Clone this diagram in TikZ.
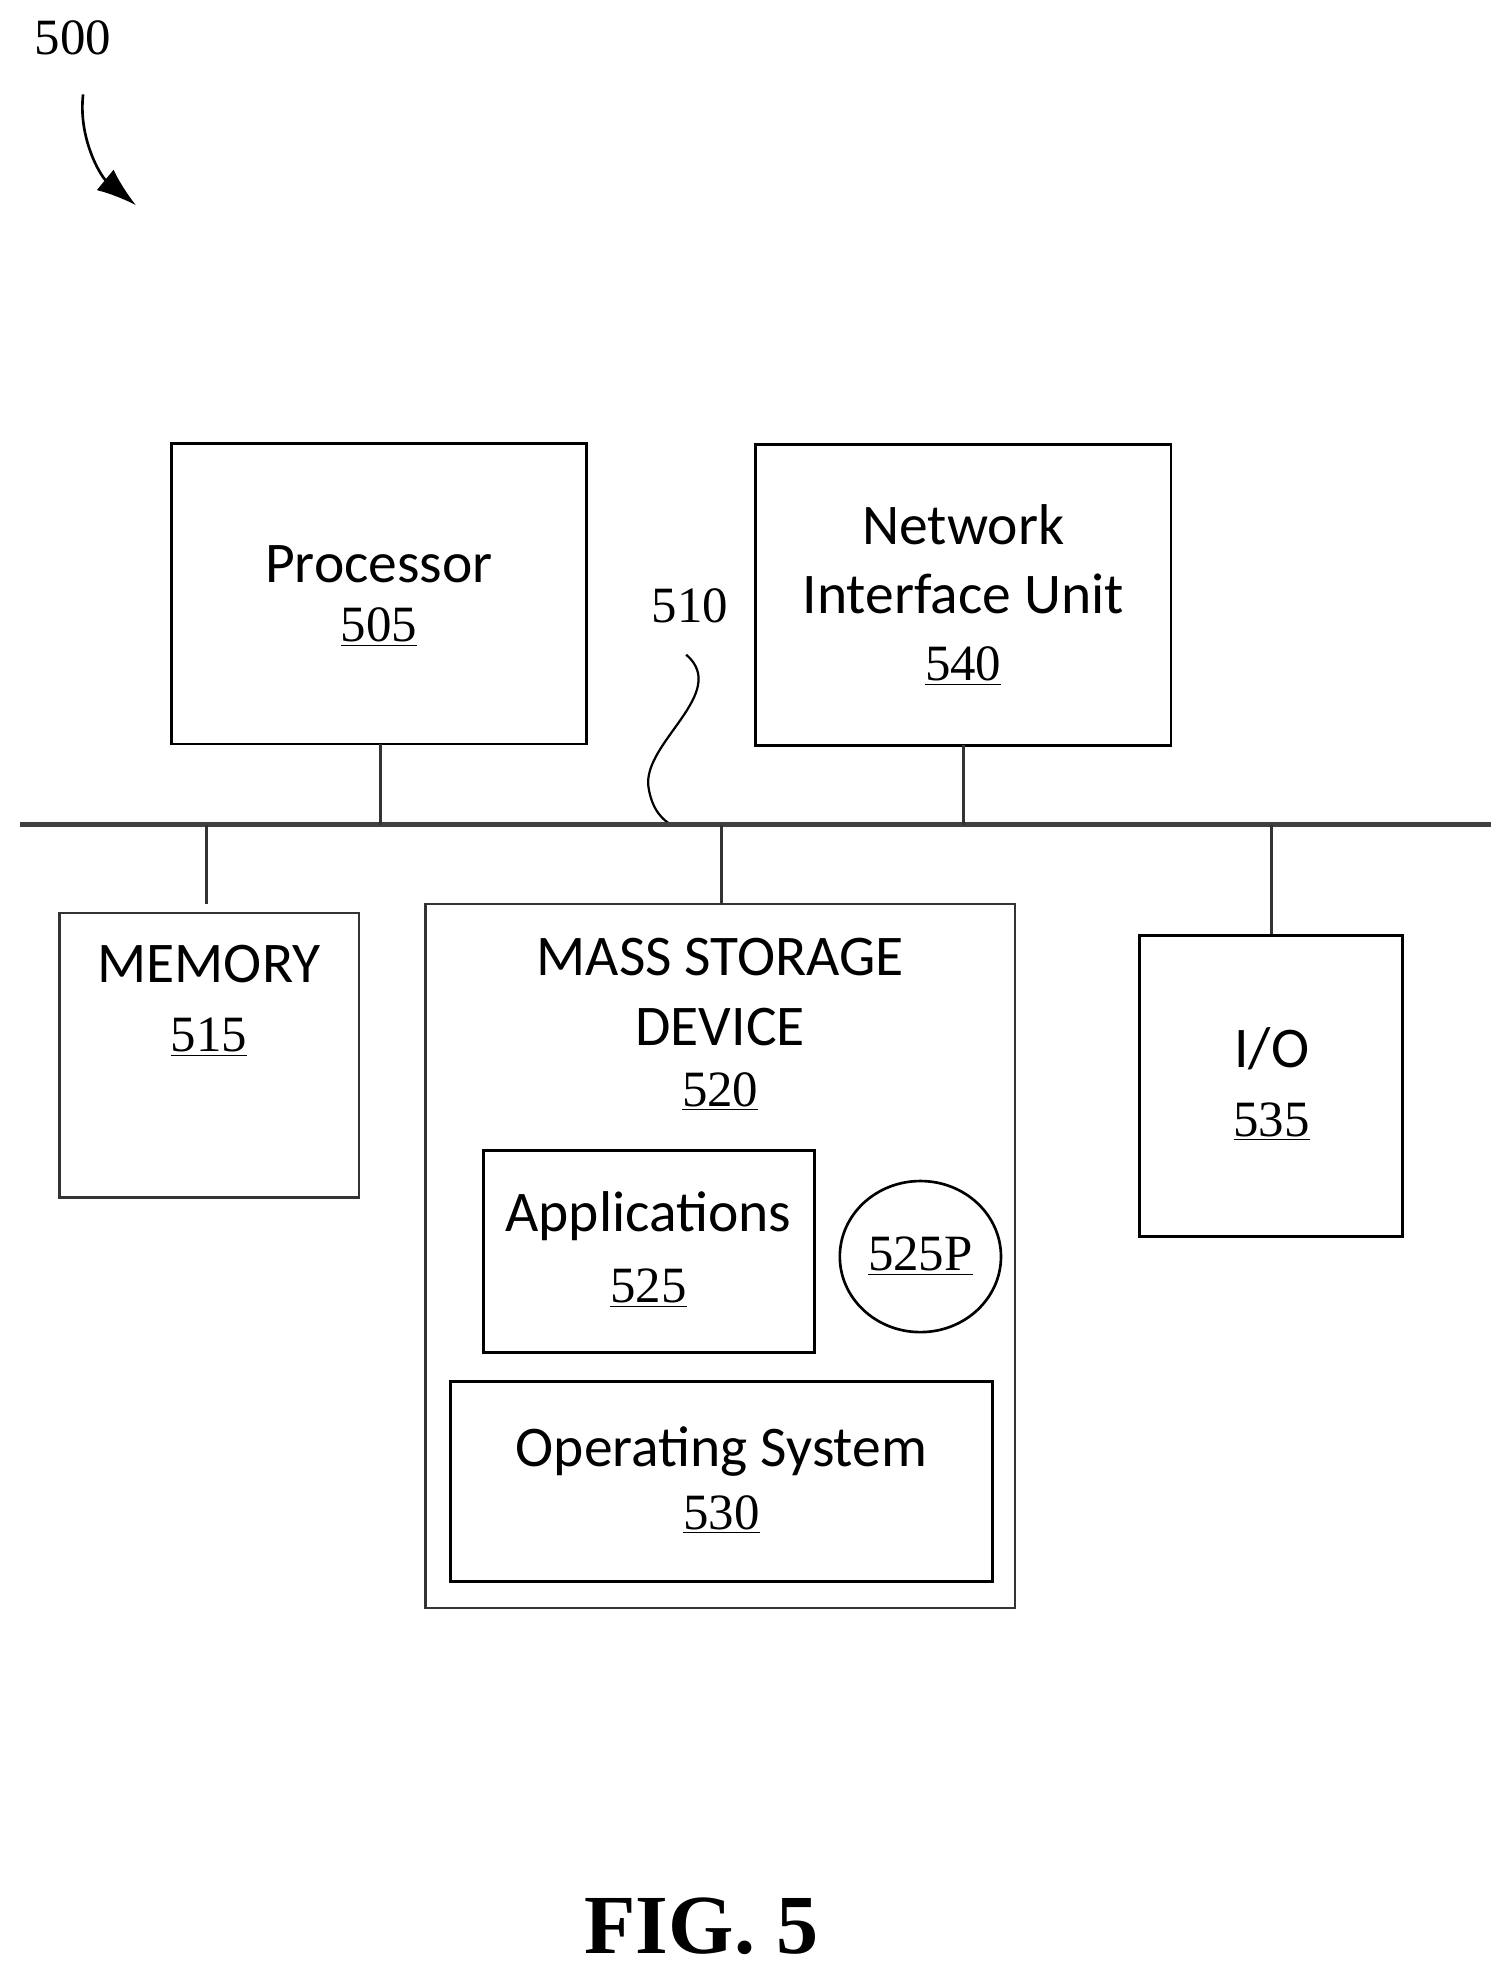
\documentclass[tikz,border=0pt]{standalone}
\usepackage{fontspec}
\usetikzlibrary{arrows.meta}
\setmainfont{Liberation Serif}
\newfontfamily\lbl{Carlito}
\begin{document}
\begin{tikzpicture}[x=0.02cm,y=-0.02cm,
  box/.style={draw,line width=1.2pt},
  ln/.style={line width=1.2pt,draw=black!80},
  t/.style={font=\lbl\fontsize{26}{28}\selectfont,inner sep=0},
  n/.style={font=\fontsize{23}{26}\selectfont,inner sep=0}]
\useasboundingbox (0,0) rectangle (1200,1567);
\newcommand{\ul}[1]{\underline{#1}}
\node[n] (l500) at (58,30) {500};
\coordinate (a1) at (66,75);
\coordinate (a2) at (108,163);
\draw[line width=1.2pt,-{Latex[length=18pt,width=12pt]}] (a1) .. controls (62,110) and (80,140) .. (a2);
% boxes
\draw[box] (136,352) rectangle (466,591);
\node[t] at (301,448) {Processor}; \node[n] at (301,498) {\ul{505}};
\draw[box] (600,353) rectangle (930,592);
\node[t] at (765,417) {Network}; \node[t] at (765,472) {Interface Unit}; \node[n] at (765,529) {\ul{540}};
\node[n] (l510) at (548,481) {510};
\coordinate (s1) at (545,520); \coordinate (s2) at (533,655);
\draw[line width=1pt] (s1) .. controls (580,550) and (510,590) .. (515,625) .. controls (518,645) and (528,652) .. (s2);
% bus
\coordinate (b0) at (16,655); \coordinate (b1) at (1184,655);
\draw[line width=2pt,draw=black!75] (b0) -- (b1);
\coordinate (p1) at (302,591); \coordinate (p2) at (302,655);
\coordinate (n1) at (765,592); \coordinate (n2) at (765,655);
\coordinate (m1) at (164,655); \coordinate (m2) at (164,718);
\coordinate (ms1) at (573,655); \coordinate (ms2) at (573,718);
\coordinate (i1) at (1010,655); \coordinate (i2) at (1010,743);
\draw[ln] (p1)--(p2); \draw[ln] (n1)--(n2); \draw[ln] (m1)--(m2); \draw[ln] (ms1)--(ms2); \draw[ln] (i1)--(i2);
\draw[box,draw=black!80] (47,725) rectangle (285,951);
\node[t] at (166,766) {MEMORY}; \node[n] at (166,824) {\ul{515}};
\draw[box,draw=black!80] (338,718) rectangle (806,1277);
\node[t] at (572,760) {MASS STORAGE}; \node[t] at (572,816) {DEVICE}; \node[n] at (572,867) {\ul{520}};
\draw[box] (384,914) rectangle (647,1074);
\node[t] at (515,966) {Applications}; \node[n] at (515,1023) {\ul{525}};
\draw[line width=1.2pt] (731,998) ellipse (64 and 60);
\node[n] at (731,998) {\ul{525P}};
\draw[box] (358,1097) rectangle (788,1256);
\node[t] at (573,1153) {Operating System}; \node[n] at (573,1203) {\ul{530}};
\draw[box] (905,743) rectangle (1114,982);
\node[t] at (1010,833) {I/O}; \node[n] at (1010,891) {\ul{535}};
\node[font=\bfseries\fontsize{38}{40}\selectfont,inner sep=0] at (557,1530) {FIG. 5};
\end{tikzpicture}
\end{document}
